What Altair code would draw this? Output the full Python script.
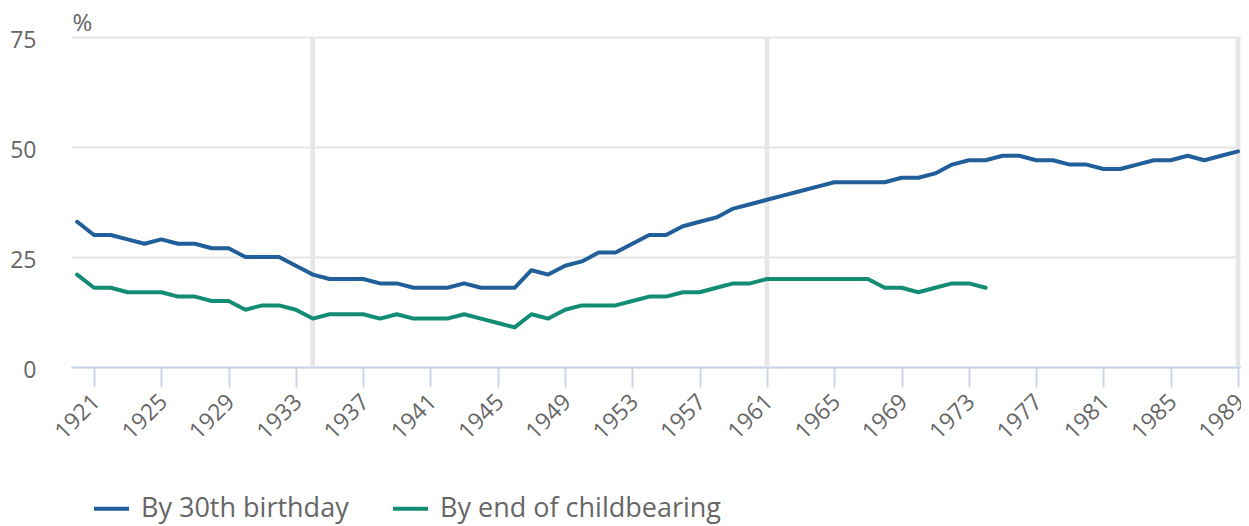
import altair as alt
import pandas as pd

# ---- data ----
years_30th = list(range(1920, 1990))
by_30th_birthday = [
    33, 30, 30, 29, 28, 29, 28, 28, 27, 27,
    25, 25, 25, 23, 21, 20, 20, 20, 19, 19,
    18, 18, 18, 19, 18, 18, 18, 22, 21, 23,
    24, 26, 26, 28, 30, 30, 32, 33, 34, 36,
    37, 38, 39, 40, 41, 42, 42, 42, 42, 43,
    43, 44, 46, 47, 47, 48, 48, 47, 47, 46,
    46, 45, 45, 46, 47, 47, 48, 47, 48, 49,
]
years_end = list(range(1920, 1975))
by_end_childbearing = [
    21, 18, 18, 17, 17, 17, 16, 16, 15, 15,
    13, 14, 14, 13, 11, 12, 12, 12, 11, 12,
    11, 11, 11, 12, 11, 10, 9, 12, 11, 13,
    14, 14, 14, 15, 16, 16, 17, 17, 18, 19,
    19, 20, 20, 20, 20, 20, 20, 20, 18, 18,
    17, 18, 19, 19, 18,
]
series_names = ["By 30th birthday", "By end of childbearing"]
series_colors = ["#215f9a", "#138c74"]
x_tick_labels = list(range(1921, 1990, 4))
y_ticks = [0, 25, 50, 75]
marker_years = [1934, 1961, 1989]

rows = [{"year": y, "value": v, "series": series_names[0]} for y, v in zip(years_30th, by_30th_birthday)]
rows += [{"year": y, "value": v, "series": series_names[1]} for y, v in zip(years_end, by_end_childbearing)]
df = pd.DataFrame(rows)
markers = pd.DataFrame({"year": marker_years})

FONT = "Open Sans"
TXT = "#666666"

x_scale = alt.Scale(domain=[1919.633, 1989.176], nice=False, zero=False)
y_scale = alt.Scale(domain=[0, 75], nice=False)

rules = alt.Chart(markers).mark_rule(color="#e6e6e6", strokeWidth=4.5).encode(
    x=alt.X("year:Q", scale=x_scale),
    y=alt.datum(0, scale=y_scale),
    y2=alt.datum(75),
)

lines = alt.Chart(df).mark_line(strokeWidth=4, strokeCap="round", strokeJoin="round").encode(
    x=alt.X(
        "year:Q",
        scale=x_scale,
        axis=alt.Axis(
            values=x_tick_labels, format="d", title=None, grid=False,
            labelAngle=315, labelAlign="right", labelBaseline="middle",
            labelPadding=11, labelOffset=2, labelFontSize=23, labelColor=TXT, labelFont=FONT,
            domainColor="#ccd6eb", domainWidth=2,
            tickColor="#ccd6eb", tickWidth=2, tickSize=20,
            labelOverlap=False, labelFlush=False,
        ),
    ),
    y=alt.Y(
        "value:Q",
        scale=y_scale,
        axis=alt.Axis(
            values=y_ticks, title="%", titleAngle=0, titleAlign="left",
            titleBaseline="alphabetic", titleX=1, titleY=-7,
            titleFontSize=24, titleFontWeight="normal", titleColor=TXT, titleFont=FONT,
            labelFontSize=23, labelColor=TXT, labelFont=FONT, labelPadding=35,
            labelBaseline="middle", labelOffset=3,
            domain=False, ticks=False, grid=True, gridColor="#e6e6e6", gridWidth=2,
        ),
    ),
    color=alt.Color(
        "series:N",
        scale=alt.Scale(domain=series_names, range=series_colors),
        legend=alt.Legend(
            title=None, orient="none", legendX=21, legendY=452, direction="horizontal",
            symbolType="stroke", symbolSize=1225, symbolStrokeWidth=4,
            labelFontSize=27, labelColor=TXT, labelFont=FONT, labelOffset=10,
            labelLimit=0, columnPadding=36, padding=0,
        ),
    ),
)

chart = alt.layer(rules, lines).properties(
    width=1170,
    height=330,
    padding={"left": 63, "top": 29, "right": 0, "bottom": 165},
    autosize=alt.AutoSizeParams(type="none"),
).configure_view(stroke=None)

chart.save("out.html", embed_options={"renderer": "svg", "actions": False})
